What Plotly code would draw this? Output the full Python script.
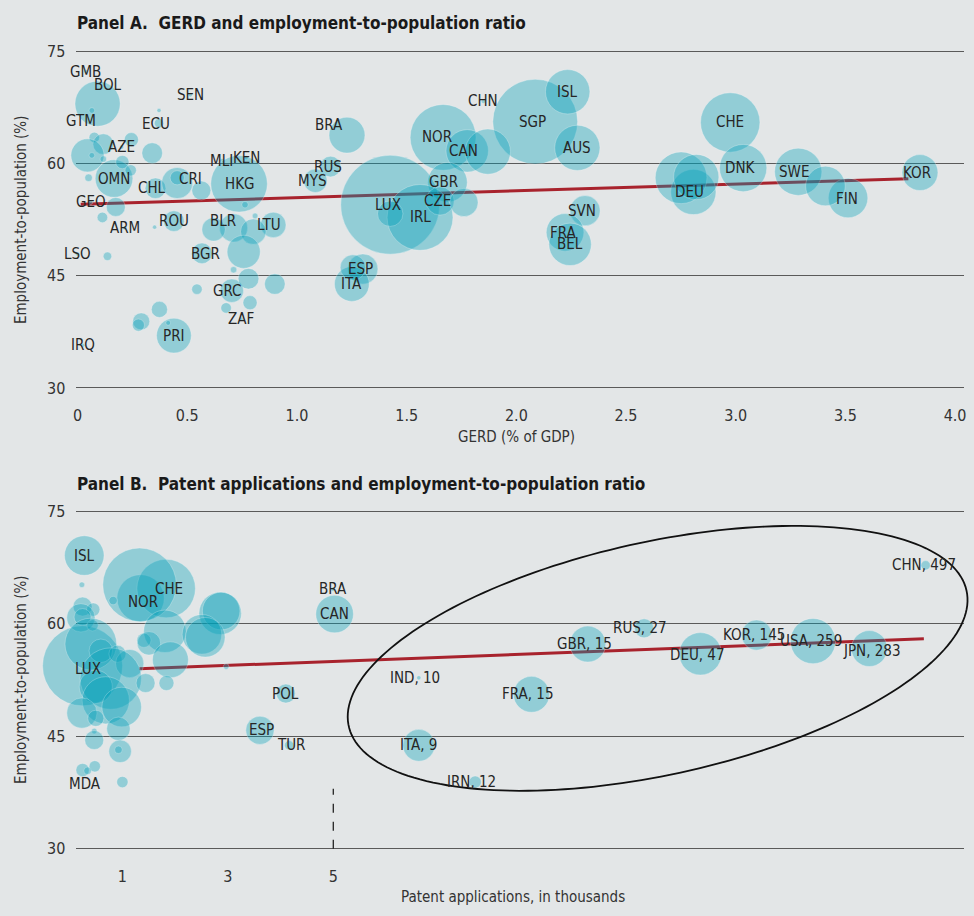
import numpy as np
import plotly.graph_objects as go

# ---------------- DATA ----------------
# Panel A: GERD (% of GDP) vs employment-to-population ratio (%); bubble = relative size value
a_country = ["GMB", "BOL", "GTM", "SEN", "ECU", "AZE", "OMN", "MLI", "KEN", "CHL", "CRI", "HKG",
             "GEO", "ARM", "ROU", "BLR", "LTU", "LSO", "BGR", "GRC", "ZAF", "PRI", "IRQ",
             "BRA", "RUS", "MYS", "CHN", "NOR", "CAN", "SGP", "ISL", "AUS", "GBR", "LUX", "IRL",
             "CZE", "SVN", "FRA", "BEL", "ESP", "ITA", "CHE", "DEU", "DNK", "SWE", "FIN", "KOR",
             "", "", "", "", "", "", "", "", "", "", "", "", "", "", "", "", "", "", "", "", "",
             "", "", "", "", "", "", "", "", "", "", "", "", "", "", "", "", "", ""]
a_gerd = [0.038, 0.091, 0.065, 0.514, 0.371, 0.201, 0.166, 0.658, 0.768, 0.355, 0.454, 0.736,
          0.059, 0.216, 0.439, 0.711, 0.892, 0.0, 0.567, 0.703, 0.745, 0.439, 0.023,
          1.228, 1.153, 1.084, 1.850, 1.666, 1.776, 2.086, 2.234, 2.278, 1.686, 1.425, 1.561,
          1.652, 2.313, 2.222, 2.245, 1.300, 1.250, 2.975, 2.807, 3.034, 3.285, 3.512, 3.840,
          0.371, 0.076, 0.117, 0.245, 0.045, 0.065, 0.117, 0.204, 0.340, 0.242, 0.050, 0.454,
          0.564, 0.763, 0.174, 0.113, 0.351, 0.620, 0.801, 0.809, 0.136, 0.757, 0.711, 0.779,
          0.899, 0.544, 0.786, 0.677, 0.373, 0.290, 0.277, 0.413,
          1.870, 1.425, 1.761, 1.255, 2.751, 2.820, 3.409]
a_emp = [72.3, 68.0, 67.1, 69.2, 65.4, 62.2, 58.0, 60.4, 60.8, 56.7, 57.4, 57.3,
         54.8, 51.4, 52.3, 51.4, 51.8, 47.9, 48.0, 43.0, 39.2, 37.0, 35.7,
         63.8, 59.6, 57.7, 68.3, 63.5, 61.7, 65.6, 69.6, 62.1, 57.5, 54.5, 52.8,
         55.0, 53.7, 50.8, 49.2, 45.9, 43.9, 65.5, 56.2, 59.4, 58.9, 55.4, 58.8,
         67.1, 63.5, 62.6, 63.2, 61.1, 61.1, 60.6, 60.2, 61.4, 59.1, 58.1, 58.1,
         56.4, 54.5, 54.2, 52.8, 51.5, 51.2, 50.9, 53.0, 47.6, 48.2, 45.8, 44.6,
         43.9, 43.2, 41.4, 40.7, 40.5, 38.9, 38.4, 38.7,
         61.6, 53.3, 54.8, 46.1, 58.1, 58.2, 57.0]
a_size = [0.2, 22.9, 0.36, 0.2, 0.98, 0.2, 15.85, 0.2, 0.2, 4.78, 10.84, 35.84,
          0.2, 0.2, 4.78, 8.96, 7.26, 0.2, 4.78, 6.17, 0.2, 13.56, 0.2,
          14.45, 4.78, 6.17, 0.2, 48.6, 20.16, 80.6, 22.09, 22.94, 17.56, 109.8, 48.6,
          8.96, 10.26, 15.85, 20.16, 10.26, 13.56, 39.5, 22.94, 24.99, 24.99, 17.56, 14.45,
          0.2, 1.23, 4.78, 2.24, 12.27, 0.36, 0.47, 1.98, 4.78, 1.43, 0.65, 2.24,
          4.02, 0.47, 4.02, 1.23, 0.2, 6.17, 7.26, 0.36, 0.8, 12.27, 0.47, 4.78,
          4.78, 1.23, 2.24, 1.23, 2.91, 3.23, 1.66, 0.26,
          22.94, 7.26, 8.96, 7.26, 30.0, 22.94, 17.56]
a_fit_x = [0.014, 3.787]
a_fit_y = [54.55, 57.98]
a_xticks = [0, 0.5, 1.0, 1.5, 2.0, 2.5, 3.0, 3.5, 4.0]
a_xticktext = ["0", "0.5", "1.0", "1.5", "2.0", "2.5", "3.0", "3.5", "4.0"]
y_ticks = [30, 45, 60, 75]

# Panel B (small applicants): patent applications (thousands) vs employment ratio
b_country = ["ISL", "NOR", "CHE", "LUX", "BRA", "CAN", "POL", "ESP", "TUR", "MDA",
             "", "", "", "", "", "", "", "", "", "", "", "", "", "", "", "", "", "", "",
             "", "", "", "", "", "", "", "", "", "", "", "", "", "", "", "", "", ""]
b_patents = [0.277, 1.345, 1.830, 0.245, 4.994, 5.025, 4.100, 3.609, 4.164, 0.245,
             0.232, 1.326, 0.825, 0.245, 0.447, 0.213, 0.245, 0.434, 1.806, 2.855, 2.874,
             2.509, 2.572, 1.409, 1.504, 0.402, 0.591, 0.906, 1.138, 0.779, 0.496, 0.685,
             0.987, 0.232, 0.496, 1.911, 1.440, 1.836, 2.968, 0.925, 0.466, 0.466, 0.957,
             0.925, 0.477, 0.340, 1.000]
b_emp = [69.1, 63.4, 64.7, 54.4, 64.6, 61.3, 50.7, 45.8, 43.8, 40.5,
         65.2, 65.2, 63.1, 62.3, 61.9, 60.8, 60.9, 59.8, 59.0, 61.4, 61.7,
         58.6, 58.2, 57.8, 57.4, 57.3, 56.4, 56.0, 54.7, 52.7, 51.6, 49.8,
         48.9, 48.1, 47.4, 55.2, 52.1, 52.1, 54.3, 46.0, 45.7, 44.5, 43.0,
         43.2, 41.0, 40.4, 38.9]
b_size = [17.56, 25.0, 38.4, 71.8, 0.2, 15.85, 4.02, 8.96, 0.98, 1.98,
          0.36, 60.6, 0.8, 4.02, 1.98, 8.96, 3.23, 1.43, 20.16, 20.16, 15.85,
          17.56, 17.56, 2.24, 6.17, 30.0, 6.17, 3.23, 8.96, 42.2, 12.27, 25.0,
          17.56, 10.26, 2.91, 14.45, 4.02, 2.52, 0.36, 6.17, 0.36, 4.02, 5.73,
          0.65, 1.43, 0.65, 1.43]
b_xticks = [1, 3, 5]

# Panel B (large applicants): ordinal position on the compressed part of the axis
big_country = ["ITA", "IND", "IRN", "FRA", "GBR", "RUS", "DEU", "KOR", "USA", "JPN", "CHN"]
big_patents = [9, 10, 12, 15, 15, 27, 47, 145, 259, 283, 497]
big_rank = [1, 1, 2, 3, 4, 5, 6, 7, 8, 9, 10]
big_emp = [43.8, 52.8, 38.9, 50.6, 57.3, 59.4, 56.0, 58.5, 57.7, 56.7, 67.8]
big_size = [11.44, 0.2, 1.66, 14.45, 14.45, 4.02, 20.16, 10.26, 22.94, 14.45, 0.98]
b_fit_x = [1.32, 16.2]
b_fit_y = [54.0, 58.0]
b_cutoff = 5

# ---------------- STYLE ----------------
W, H = 974, 916
BG = "#e3e6e7"
BUBBLE = "rgba(0,160,185,0.5)"
RING = "rgba(255,255,255,0.35)"
RED = "#a8232d"
GRID = "#5a5a5a"
TXT = "#262626"
FONT = "Liberation Sans Narrow, DejaVu Sans Condensed, Arial Narrow, sans-serif"
SIZEREF = 1 / 6.68 ** 2

# label offsets (px, right / up)
SHIFT_A = {"BOL": (10, 19), "GTM": (-11, -11), "CHL": (-3, 0), "CRI": (13, 4), "BLR": (-11, 7),
           "LTU": (-4, 0), "BGR": (4, -1), "GRC": (-4, 0), "BRA": (-18, 10), "RUS": (-3, 0),
           "MYS": (-3, 0), "NOR": (-6, 0), "CAN": (-4, 0), "SGP": (-3, 0), "GBR": (-4, 0),
           "LUX": (-2, 0), "CZE": (-3, 0), "SVN": (-3, 0), "FRA": (-2, -1), "ESP": (-2, 0),
           "DEU": (-4, 0), "DNK": (-3, 0), "SWE": (-4, 0), "FIN": (-1, -1), "KOR": (-3, 0),
           "ECU": (-3, -1)}
SHIFT_B = {"NOR": (2, -4), "CHE": (3, 0), "LUX": (5, -3), "ESP": (2, 0), "TUR": (2, 0),
           "MDA": (2, -14)}
SHIFT_BIG = {"IND": (-4, 0), "IRN": (-4, 0), "FRA": (-3, 0), "GBR": (-3, 0), "RUS": (-4, 0),
             "DEU": (-3, -1), "KOR": (-3, 0), "USA": (-2, 0), "JPN": (3, -2), "CHN": (-2, 0)}

# pixel layout
PLOT_L, PLOT_R = 73, 966
A_TOP, A_BOT = 42.2, 390.8
B_TOP, B_BOT = 508.2, 857.8
px = lambda v: v / W
py = lambda v: 1 - v / H


def bubbles(x, y, s, xa, ya):
    return go.Scatter(x=x, y=y, mode="markers", xaxis=xa, yaxis=ya, cliponaxis=False,
                      hoverinfo="skip", showlegend=False,
                      marker=dict(size=s, sizemode="area", sizeref=SIZEREF, color=BUBBLE,
                                  line=dict(width=1, color=RING)))


fig = go.Figure()
fig.add_trace(go.Scatter(x=a_fit_x, y=a_fit_y, mode="lines", xaxis="x", yaxis="y",
                         line=dict(color=RED, width=3), showlegend=False, hoverinfo="skip"))
fig.add_trace(bubbles(a_gerd, a_emp, a_size, "x", "y"))
fig.add_trace(go.Scatter(x=b_fit_x, y=b_fit_y, mode="lines", xaxis="x2", yaxis="y2",
                         line=dict(color=RED, width=3), showlegend=False, hoverinfo="skip"))
fig.add_trace(bubbles(b_patents, b_emp, b_size, "x2", "y2"))
fig.add_trace(bubbles(big_rank, big_emp, big_size, "x3", "y2"))

LBL = dict(size=15, color=TXT, family=FONT)
ann = []
for c, xv, yv in zip(a_country, a_gerd, a_emp):
    if c:
        dx, dy = SHIFT_A.get(c, (0, 0))
        ann.append(dict(x=xv, y=yv, xref="x", yref="y", text=c, showarrow=False,
                        xanchor="center", yanchor="middle", xshift=dx, yshift=dy, font=LBL))
for c, xv, yv in zip(b_country, b_patents, b_emp):
    if c:
        dx, dy = SHIFT_B.get(c, (0, 0))
        ann.append(dict(x=xv, y=yv, xref="x2", yref="y2", text=c, showarrow=False,
                        xanchor="center", yanchor="middle", xshift=dx, yshift=dy, font=LBL))
for c, p, xv, yv in zip(big_country, big_patents, big_rank, big_emp):
    dx, dy = SHIFT_BIG.get(c, (0, 0))
    ann.append(dict(x=xv, y=yv, xref="x3", yref="y2", text=f"{c}, {p}", showarrow=False,
                    xanchor="center", yanchor="middle", xshift=dx, yshift=dy, font=LBL))

TITLE = dict(size=17, color="#1a1a1a", family=FONT)
AXT = dict(size=15, color="#333", family=FONT)


def note(x, y, text, font, xanchor="center", angle=0):
    return dict(x=px(x), y=py(y), xref="paper", yref="paper", xanchor=xanchor,
                yanchor="middle", text=text, showarrow=False, font=font, textangle=angle)


ann += [
    note(72, 17, "<b>Panel A.  GERD and employment-to-population ratio</b>", TITLE, "left"),
    note(72, 484, "<b>Panel B.  Patent applications and employment-to-population ratio</b>",
         TITLE, "left"),
    note(516, 437, "GERD (% of GDP)", AXT),
    note(513, 903, "Patent applications, in thousands", AXT),
    note(18, 216, "Employment-to-population (%)", AXT, angle=-90),
    note(18, 682, "Employment-to-population (%)", AXT, angle=-90),
]

# ellipse around the large applicants (decoration, in pixels)
cx, cy, ea, eb, th = 658, 661, 318, 118, np.deg2rad(12.5)
t = np.linspace(0, 2 * np.pi, 200)
ex = cx + ea * np.cos(t) * np.cos(th) - eb * np.sin(t) * np.sin(th)
ey = cy - (ea * np.cos(t) * np.sin(th) + eb * np.sin(t) * np.cos(th))
path = "M " + " L ".join(f"{px(a):.5f},{py(b):.5f}" for a, b in zip(ex, ey)) + " Z"

shapes = [
    dict(type="path", path=path, xref="paper", yref="paper", line=dict(color="#111", width=1.8)),
    dict(type="line", x0=b_cutoff, x1=b_cutoff, y0=30, y1=38, xref="x2", yref="y2",
         line=dict(color="#222", width=1.3, dash="dash")),
]

tickfont = dict(size=16, color="#333", family=FONT)
xa_common = dict(showgrid=False, zeroline=False, showline=False, ticks="outside", ticklen=9,
                 tickcolor="rgba(0,0,0,0)", tickfont=tickfont, fixedrange=True)
ya_common = dict(showgrid=True, gridcolor=GRID, gridwidth=1.4, zeroline=False, showline=False,
                 tickvals=y_ticks, range=[29.5, 75.5], ticks="outside", ticklen=6,
                 tickcolor="rgba(0,0,0,0)", tickfont=tickfont, fixedrange=True)
dom_x = [px(PLOT_L), px(PLOT_R)]

# x axis ranges derived from the pixel scale of the reference
a_range = [(PLOT_L - 75) / 220.5, (PLOT_R - 75) / 220.5]
b_range = [(PLOT_L - 67) / 53, (PLOT_R - 67) / 53]
r_range = [1 + (PLOT_L - 418) / 56.6, 1 + (PLOT_R - 418) / 56.6]

fig.update_layout(
    width=W, height=H, margin=dict(l=0, r=0, t=0, b=0),
    paper_bgcolor=BG, plot_bgcolor=BG, showlegend=False,
    font=dict(family=FONT, color=TXT),
    xaxis=dict(domain=dom_x, range=a_range, anchor="y", tickvals=a_xticks,
               ticktext=a_xticktext, **xa_common),
    yaxis=dict(domain=[py(A_BOT), py(A_TOP)], anchor="x", **ya_common),
    xaxis2=dict(domain=dom_x, range=b_range, anchor="y2", tickvals=b_xticks, **xa_common),
    yaxis2=dict(domain=[py(B_BOT), py(B_TOP)], anchor="x2", **ya_common),
    xaxis3=dict(range=r_range, overlaying="x2", anchor="y2", visible=False, fixedrange=True),
    annotations=ann, shapes=shapes,
)

PAGE_FIX = (
    "var s='margin:0;padding:0;overflow:hidden;width:974px;height:916px;';"
    "document.documentElement.style.cssText=s;document.body.style.cssText=s;"
    "var d=document.getElementById('{plot_id}');"
    "d.style.position='fixed';d.style.left='0px';d.style.top='0px';"
)
fig.write_html("out.html", config={"displayModeBar": False, "responsive": False},
               post_script=PAGE_FIX)
